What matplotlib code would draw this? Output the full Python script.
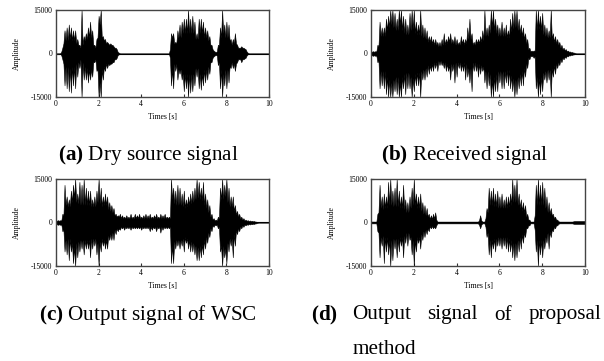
import numpy as np
import matplotlib
matplotlib.use("Agg")
import matplotlib.pyplot as plt

plt.rcParams['font.family'] = ['Liberation Serif', 'DejaVu Serif']
plt.rcParams['mathtext.fontset'] = 'custom'
plt.rcParams['mathtext.rm'] = 'Liberation Serif'
plt.rcParams['mathtext.bf'] = 'Liberation Serif:bold'

# ---- data: envelope of each waveform (thousands), peaks every 0.1 s from 0 to 10 s ----
time_s = np.linspace(0, 10, 101)
# dense core (thousands) between peaks, at 0.05, 0.15, ..., 9.95 s
time_mid = np.linspace(0.05, 9.95, 100)

up_a = [0, 0, 0, 2, 8, 9, 10, 9, 8, 8, 5, 3, 15, 6, 7, 9, 11, 8, 3, 5, 13, 15, 6,
        5, 4, 3, 3, 2.5, 2, 0.5] + [0] * 24 + \
       [7, 7, 4, 8, 10, 11, 12, 12, 15, 12, 13, 11, 7, 12, 12, 11, 9, 8, 6, 3,
        1, 0.5, 3, 9, 15, 10, 11, 10, 5, 5, 7, 3, 2, 2.5, 2, 1.5, 0.3] + [0] * 10
lo_a = [0, 0, 0, 2, 11, 12, 13, 13.5, 11, 12, 8, 5, 15, 9, 9, 10, 9, 8, 3, 6, 15, 15, 9,
        6, 5, 4, 3.5, 3, 2, 0.5] + [0] * 24 + \
       [11, 12, 6, 9, 7, 9, 13, 12, 15, 13.5, 13, 11, 8, 12, 12.5, 11, 10, 9, 7, 3,
        1, 0.5, 4, 12, 15, 11, 12, 10, 5, 5, 6, 3, 2, 3, 2, 1.5, 0.3] + [0] * 10
core_a = [0, 0, 0.7, 3.5, 4.5, 4.5, 5, 4.5, 4.5, 3.5,
          3, 2, 3, 4.5, 5, 5.5, 5.5, 3, 2, 5.5,
          10, 5.5, 4.5, 3.5, 3.5, 3.5, 3, 2, 1.5, 0.3] + [0] * 23 + \
         [1.5, 5.5, 3.5, 3.5, 5.5, 5.5, 7, 7, 7, 7,
          7, 7, 5, 5, 7, 7, 5.5, 5.5, 4.5, 3,
          1.5, 0.7, 0.7, 3, 5.5, 7, 5.5, 5.5, 4.5, 3,
          3.5, 3.5, 2, 2, 2, 1.7, 0.7] + [0] * 10

up_b = [0.8, 0.8, 0.8,
        3, 11, 9, 9, 12, 13, 15, 15, 14, 12,
        15, 15, 13, 12, 10, 14, 15, 15, 11, 10,
        15, 10, 9, 8, 6, 6, 5, 5, 4, 4,
        5, 7, 5, 6, 7, 5, 6, 5, 4, 6,
        5, 5, 9, 12, 7, 4, 5, 5, 6, 8,
        15, 9, 10, 15, 15, 12, 10, 9, 11, 9,
        10, 8, 12, 14, 15, 15, 12, 10, 9, 7,
        5, 2, 1, 1, 15, 15, 13, 14, 10, 9,
        8, 15, 7, 6, 5, 4, 3, 2, 1.5, 1,
        0.7, 0.5, 0.3, 0, 0, 0, 0, 0]
lo_b = [0.8, 0.8, 0.8,
        3, 12, 11, 12, 14, 15, 15, 15, 13, 14,
        15, 15, 12, 14, 12, 12, 15, 13, 11, 11,
        15, 9, 9, 8, 7, 6, 6, 5, 6, 4,
        4, 5, 6, 6, 9, 6, 10, 8, 5, 6,
        6, 9, 8, 10, 13, 6, 6, 8, 7, 6,
        10, 12, 11, 15, 15, 13, 13, 10, 12, 12,
        10, 11, 12, 13, 15, 14, 12, 11, 11, 8,
        5, 2, 1, 1.5, 12, 15, 14, 13, 9, 10,
        9, 15, 8, 7, 5, 4, 3, 2, 1.5, 1,
        0.7, 0.5, 0.3, 0, 0, 0, 0, 0]
core_b = [0.6, 0.6, 0.7, 2.5, 6, 6, 6, 8, 9, 10,
          9, 8, 8, 10, 8, 7, 6.5, 6.5, 8, 8.5,
          7, 6.5, 6.5, 6, 5.5, 5, 4, 4, 3.5, 3,
          3, 2.5, 2.5, 3, 3, 3.5, 4, 3.5, 3.5, 3,
          3, 3, 3.5, 3, 3.5, 5, 5, 3, 3, 3.5,
          3.5, 4, 4.5, 6, 6, 7, 9, 8, 7, 6,
          6, 6, 6, 5.5, 5.5, 7.5, 8.5, 9, 8, 7,
          6, 5, 3.5, 1.5, 0.8, 0.8, 1, 8, 8.5, 8,
          6.5, 6, 5.5, 5.5, 5, 4, 3.5, 3, 2, 1.5,
          1.2, 0.8, 0.6, 0.4, 0.3, 0.1, 0, 0, 0, 0]

up_c = [0.8, 0.8, 0.8,
        3, 13, 9, 8, 11, 13, 15, 10, 14, 13,
        15, 12, 11, 11, 8, 9, 11, 15, 12, 9,
        10, 9, 7, 6, 5, 3, 2.5, 3, 2.5, 2,
        2.5, 2, 3, 2, 3, 2.5, 3, 2, 2.5, 3,
        2.5, 3, 2, 2.5, 3, 2, 3, 2.5, 3, 2,
        2, 15, 12, 11, 13, 12, 10, 11, 8, 9,
        10, 11, 12, 15, 14, 12, 14, 10, 8, 6,
        3, 1.5, 1, 2, 12, 15, 13, 15, 12, 9,
        9, 6, 4, 3, 2, 1.5, 1, 0.8, 0.7, 0.6,
        0.5, 0.3, 0, 0, 0, 0, 0, 0]
lo_c = [0.8, 0.8, 0.8,
        3, 10, 11, 13, 10, 14, 15, 12, 10, 9,
        11, 9, 9, 12, 9, 8, 11, 15, 10, 8,
        9, 9, 6, 6, 6, 4, 3, 2.5, 2, 2.5,
        2, 2, 2.5, 2, 2, 2, 2, 2.5, 2, 2,
        2, 3, 2.5, 2, 3, 2, 3.5, 2.5, 2, 2,
        2, 14, 14, 9, 8, 9, 8, 10, 7, 9,
        10, 10, 11, 13, 13, 12, 11, 9, 7, 5,
        3, 1.5, 1, 2, 10, 15, 12, 14, 10, 8,
        12, 8, 4, 3, 2, 1.5, 1, 0.8, 0.7, 0.6,
        0.5, 0.3, 0, 0, 0, 0, 0, 0]
core_c = [0.6, 0.6, 0.7, 2.5, 6, 5.5, 5.5, 7, 8.5, 7,
          6.5, 6, 6, 6, 6, 6, 5.5, 5.5, 5.5, 7,
          6.5, 5.5, 6, 6, 4.5, 4, 3.5, 2.5, 2, 2,
          1.5, 1.5, 1.5] + [1.5] * 20 + \
         [1.5, 8, 6.5, 6, 6, 6, 5.5, 5, 5.5, 6,
          6.5, 7, 8, 8.5, 8, 7.5, 6, 5, 3.5, 2,
          1, 0.7, 0.7, 1.5, 8, 8, 9, 7, 5.5, 5.5,
          4, 2.7, 2, 1.4, 1, 0.7, 0.6, 0.5, 0.45, 0.4,
          0.3, 0.15] + [0] * 5

up_d = [0.3, 0.3, 0.3,
        3, 13, 9, 10, 9, 14, 15, 11, 12, 15,
        11, 9, 13, 8, 7, 9, 12, 15, 10, 9,
        10, 7, 6, 5, 3, 2.5, 3, 3.5, 0.3, 0.3,
        0.3, 0.3, 0.3, 0.3, 0.3, 0.3, 0.3, 0.3, 0.3, 0.3,
        0.3, 0.3, 0.3, 0.3, 0.3, 0.3, 0.3, 0.3, 2.5, 0.3,
        0.3, 5, 12, 11, 12, 10, 11, 9, 10, 8,
        9, 9, 10, 15, 13, 15, 10, 8, 7, 6,
        3, 1, 0.3, 0.3, 13, 15, 13, 14, 12, 9,
        7, 5, 3, 2, 1, 0.3, 0.3, 0.3, 0.3, 0.3,
        0.3, 0.3, 0.5, 0.5, 0.5, 0.5, 0.5, 0.5]
lo_d = [0.3, 0.3, 0.3,
        3, 12, 8, 14, 10, 11, 15, 13, 9, 12,
        10, 8, 12, 7, 8, 6, 11, 15, 10, 7,
        9, 6, 5, 4, 3, 2, 2, 2, 0.3, 0.3,
        0.3, 0.3, 0.3, 0.3, 0.3, 0.3, 0.3, 0.3, 0.3, 0.3,
        0.3, 0.3, 0.3, 0.3, 0.3, 0.3, 0.3, 0.3, 2, 0.3,
        0.3, 5, 11, 12, 9, 10, 8, 8, 9, 8,
        9, 10, 10, 12, 13, 12, 10, 9, 7, 5,
        2, 1, 0.3, 0.3, 10, 15, 11, 12, 9, 7,
        9, 5, 3, 2, 1, 0.3, 0.3, 0.3, 0.3, 0.3,
        0.3, 0.3, 0.5, 0.5, 0.5, 0.5, 0.5, 0.5]
core_d = [0.3, 0.3, 0.3, 3.5, 5, 4.5, 5, 5, 6, 6,
          5.5, 5.5, 5.5, 5, 5, 4.5, 3.5, 3.5, 5, 6,
          6, 5, 5, 4, 3, 2.5, 2, 1.2, 1.2, 1.4,
          1] + [0.3] * 19 + \
         [0.8, 0.8, 0.3, 1.5, 3.5, 6, 6, 5.5, 5.5, 5,
          5, 5, 5, 5, 5.5, 6, 7, 7, 6, 5,
          4, 3.5, 2, 1, 0.3, 0.3, 2.5, 6, 6, 6,
          6, 5, 3.5, 3, 2.5, 1.5, 1, 0.5] + [0.3] * 6 + [0.4] + [0.5] * 5

x_ticks = [0, 2, 4, 6, 8, 10]
y_ticks = [-15000, 0, 15000]
y_ticklabels = ['-15000', '0', '15000']
x_label = 'Times [s]'
y_label = 'Amplitude'

W, H = 604, 361
fig = plt.figure(figsize=(W / 100, H / 100), dpi=100)

panels = [
    (up_a, lo_a, core_a, (56, 10, 213)),
    (up_b, lo_b, core_b, (371, 10, 214)),
    (up_c, lo_c, core_c, (56, 179, 213)),
    (up_d, lo_d, core_d, (371, 179, 214)),
]

for up, lo, core, (lx, ty, wd) in panels:
    ax = fig.add_axes([lx / W, 1 - (ty + 87) / H, wd / W, 87 / H])
    xs = np.empty(201)
    xs[0::2] = time_s
    xs[1::2] = time_mid
    upper = np.empty(201)
    lower = np.empty(201)
    upper[0::2] = np.array(up, float) * 1000
    lower[0::2] = -np.array(lo, float) * 1000
    upper[1::2] = np.array(core, float) * 1000
    lower[1::2] = -np.array(core, float) * 1000
    ax.axhline(0, color='black', lw=0.8, zorder=1)
    ax.fill_between(xs, lower, upper, color='black', lw=0.4, zorder=2)
    ax.set_xlim(0, 10)
    ax.set_ylim(-15000, 15000)
    ax.set_xticks(x_ticks)
    ax.set_yticks(y_ticks)
    ax.set_yticklabels(y_ticklabels)
    ax.tick_params(direction='in', length=2, width=0.8, labelsize=5.5, pad=2.5,
                   color='#333333')
    for s in ax.spines.values():
        s.set_color('#444444')
        s.set_linewidth(1.0)
        s.set_zorder(5)
    ax.text(0.5, -20 / 87, x_label, transform=ax.transAxes, ha='center',
            va='center', fontsize=5.5)
    ax.text(-39 / wd, 0.5, y_label, transform=ax.transAxes, ha='center',
            va='center', rotation=90, fontsize=5.5)

cap_fs = 15.2


def ftext(x, y, s, ha='left', **kw):
    return fig.text(x / W, 1 - y / H, s, fontsize=cap_fs, va='center', ha=ha, **kw)


ftext(58, 155, r'$\mathbf{(a)}$ Dry source signal')
ftext(381, 155, r'$\mathbf{(b)}$ Received signal')
ftext(38.5, 315, r'$\mathbf{(c)}$ Output signal of WSC')
ftext(311, 315, r'$\mathbf{(d)}$')
ftext(352.5, 350, 'method')

# justified first line of caption (d): from x=352.5 to x=601
words = ['Output', 'signal', 'of', 'proposal']
objs = [ftext(0, 315, w) for w in words]
fig.canvas.draw()
renderer = fig.canvas.get_renderer()
widths = [o.get_window_extent(renderer).width for o in objs]
x0, x1 = 352.5, 601.0
gap = (x1 - x0 - sum(widths)) / (len(words) - 1)
xpos = x0
for o, w in zip(objs, widths):
    o.set_x(xpos / W)
    xpos += w + gap

fig.savefig('out.png', dpi=100)
